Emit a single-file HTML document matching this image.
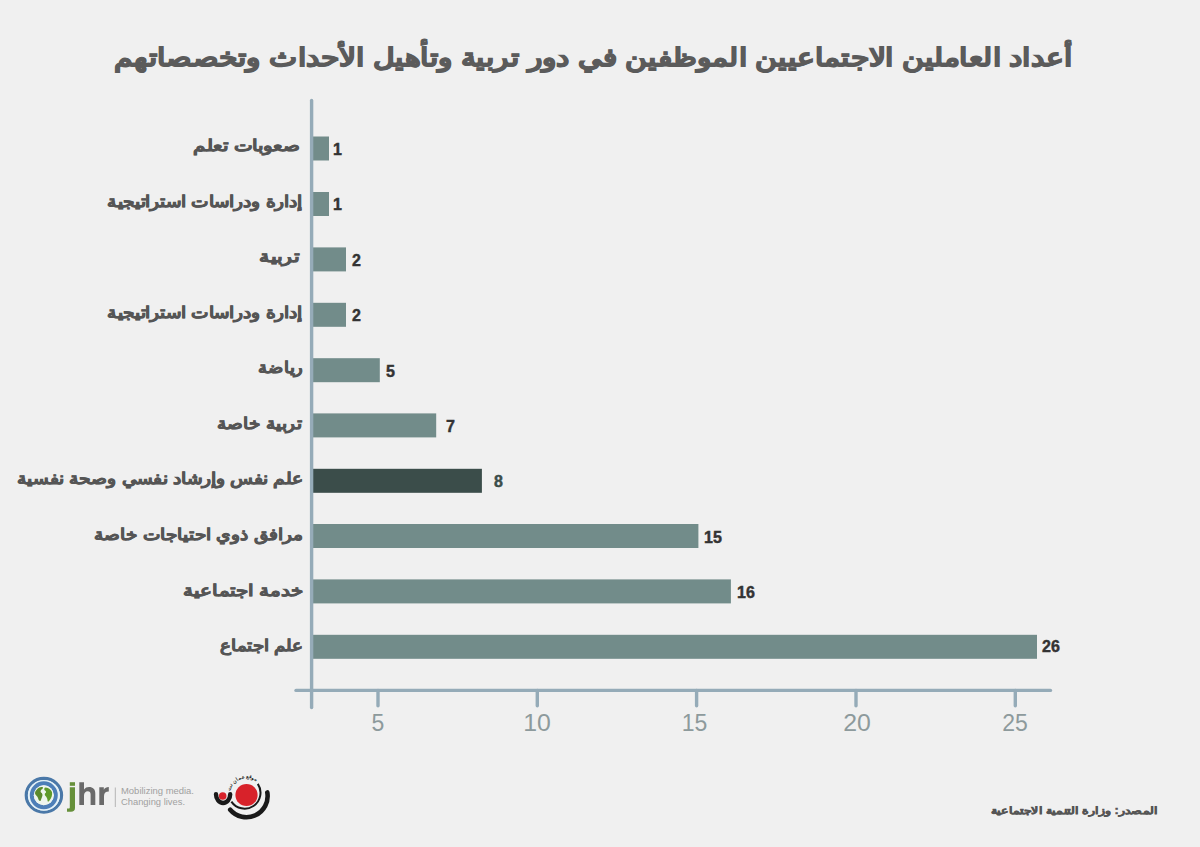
<!DOCTYPE html>
<html lang="ar">
<head>
<meta charset="utf-8">
<style>
html,body{margin:0;padding:0}
body{width:1200px;height:847px;background:#f0f0f0;position:relative;overflow:hidden;font-family:"Liberation Sans",sans-serif}
.t{position:absolute;white-space:nowrap;direction:rtl;line-height:1;transform-origin:100% 0}
.title{font-weight:bold;color:#5b5b5b;font-size:25px;-webkit-text-stroke:1px #5b5b5b}
.lab{font-weight:bold;color:#555;font-size:16px;-webkit-text-stroke:0.6px #555}
.v{position:absolute;font-weight:bold;color:#333;font-size:16px;line-height:1;white-space:nowrap;-webkit-text-stroke:0.45px #333}
.tk{position:absolute;color:#8d9a9c;font-size:23px;line-height:1;width:60px;text-align:center}
svg{position:absolute;left:0;top:0}
</style>
</head>
<body>
<svg width="1200" height="847" viewBox="0 0 1200 847">
  <g fill="#728c8a">
    <rect x="313" y="136.5" width="16" height="24"/>
    <rect x="313" y="192" width="16" height="24"/>
    <rect x="313" y="247.4" width="33" height="24"/>
    <rect x="313" y="302.8" width="33" height="24"/>
    <rect x="313" y="358.2" width="66.8" height="24"/>
    <rect x="313" y="413.4" width="123.2" height="24"/>
    <rect x="313" y="468.8" width="168.9" height="24" fill="#3b4d4a"/>
    <rect x="313" y="524" width="385.4" height="24"/>
    <rect x="313" y="579.4" width="417.9" height="24"/>
    <rect x="313" y="634.8" width="724" height="24"/>
  </g>
  <g stroke="#95abb8" stroke-width="3.4" stroke-linecap="round" fill="none">
    <line x1="311.6" y1="100.5" x2="311.6" y2="707.5"/>
    <line x1="296" y1="690.4" x2="1050.5" y2="690.4"/>
    <line x1="378" y1="690.4" x2="378" y2="705.8"/>
    <line x1="537.3" y1="690.4" x2="537.3" y2="705.8"/>
    <line x1="696.6" y1="690.4" x2="696.6" y2="705.8"/>
    <line x1="856" y1="690.4" x2="856" y2="705.8"/>
    <line x1="1015.3" y1="690.4" x2="1015.3" y2="705.8"/>
  </g>
  <!-- jhr logo -->
  <g class="logo">
    <ellipse cx="43.9" cy="795.3" rx="17.6" ry="16.8" fill="none" stroke="#4a78a8" stroke-width="3.3"/>
    <ellipse cx="43.9" cy="795.3" rx="15.2" ry="14.5" fill="none" stroke="#e4f2f8" stroke-width="1.8"/>
    <circle cx="43.8" cy="795.3" r="12" fill="none" stroke="#4d7fb8" stroke-width="4"/>
    <circle cx="43.8" cy="795.3" r="10" fill="#eef5ee"/>
    <path d="M36.5 790 C38 787.5 41 786.5 43 787.2 L42.5 789 C41 789.5 40 791 41 792.5 C42.5 793.5 43 795 42 797 L40.5 801 C39.5 801.5 38.5 800 38 798 C37.5 796 35.5 795.5 35 793.5 C35 792 35.5 791 36.5 790 Z" fill="#5b8a2d"/>
    <path d="M45 787.5 C48 787.5 51 789.5 52 792 C52.5 795 51.5 798 49.5 800.5 C48.5 802 47.5 802 47.5 800.5 C47.5 798.5 46.5 797 45.5 796 C44.5 795 44.5 793.5 45.5 793 C46.5 792.5 46 791 45 790.5 C44 790 44 788.5 45 787.5 Z" fill="#5f9a2a"/>
    <!-- j -->
    <rect x="69.8" y="782.2" width="5.2" height="3.6" fill="#66903a"/>
    <path d="M69.8 787.3 H75 V808 C75 810.5 73.5 811.8 71 811.8 H67 V808.5 H68.5 C69.5 808.5 69.8 808 69.8 807 Z" fill="#66903a"/>
    <!-- h -->
    <path d="M79.3 782.2 H84 V789.5 C85.2 787.8 87 787 89 787 C93 787 95.3 789.3 95.3 793.5 V805 H90.6 V794.5 C90.6 792.3 89.6 791.2 87.8 791.2 C85.5 791.2 84 792.8 84 795.5 V805 H79.3 Z" fill="#6a6a6a"/>
    <!-- r -->
    <path d="M99.3 787.3 H103.8 V789.8 C104.8 788 106.5 787 108.8 787 V791.6 C105.8 791.6 104 793 104 796 V805 H99.3 Z" fill="#6a6a6a"/>
    <rect x="114.8" y="787.5" width="1" height="19.5" fill="#b5b5b5"/>
    <text x="121" y="794" font-family="Liberation Sans" font-size="8.6" fill="#a0a0a0" textLength="73" lengthAdjust="spacingAndGlyphs">Mobilizing media.</text>
    <text x="121" y="805.4" font-family="Liberation Sans" font-size="8.6" fill="#a0a0a0" textLength="64" lengthAdjust="spacingAndGlyphs">Changing lives.</text>
  </g>
  <!-- amman net logo -->
  <g class="logo">
    <circle cx="246.5" cy="795" r="11.1" fill="#d8222a"/>
    <path d="M257.8 783.9 A15.8 15.8 0 1 1 231.4 801.6" fill="none" stroke="#1a1a1a" stroke-width="2"/>
    <path d="M267.3 792.4 A21.2 21.2 0 0 1 230.2 809.7" fill="none" stroke="#1a1a1a" stroke-width="4.6" stroke-linecap="round"/>
    <path d="M216 794.2 A7.1 8.8 0 0 0 230.2 794.2" fill="none" stroke="#1a1a1a" stroke-width="4.4" stroke-linecap="round"/>
    <circle cx="222.7" cy="796" r="3.8" fill="#d8222a"/>
    <path id="tp" d="M230.1 790.6 A17 17 0 0 1 257.4 782" fill="none"/>
    <text font-size="4.8" font-weight="bold" fill="#222" font-family="Liberation Sans"><textPath href="#tp" textLength="33" lengthAdjust="spacingAndGlyphs">موقع عمان نت</textPath></text>
  </g>
</svg>

<div class="t title" style="right:127.0px;top:44.8px;transform:scaleX(1.193)">أعداد العاملين الاجتماعيين الموظفين في دور تربية وتأهيل الأحداث وتخصصاتهم</div>

<div class="t lab" style="right:900.0px;top:137.9px;transform:scaleX(1.238)">صعوبات تعلم</div>
<div class="t lab" style="right:898.0px;top:193.5px;transform:scaleX(1.160)">إدارة ودراسات استراتيجية</div>
<div class="t lab" style="right:901.4px;top:249.1px;transform:scaleX(1.277)">تربية</div>
<div class="t lab" style="right:898.0px;top:304.6px;transform:scaleX(1.160)">إدارة ودراسات استراتيجية</div>
<div class="t lab" style="right:897.0px;top:360.2px;transform:scaleX(1.118)">رياضة</div>
<div class="t lab" style="right:899.0px;top:415.8px;transform:scaleX(1.154)">تربية خاصة</div>
<div class="t lab" style="right:897.0px;top:471.4px;transform:scaleX(1.168)">علم نفس وإرشاد نفسي وصحة نفسية</div>
<div class="t lab" style="right:896.6px;top:526.9px;transform:scaleX(1.156)">مرافق ذوي احتياجات خاصة</div>
<div class="t lab" style="right:896.6px;top:582.5px;transform:scaleX(1.241)">خدمة اجتماعية</div>
<div class="t lab" style="right:896.3px;top:638.1px;transform:scaleX(1.140)">علم اجتماع</div>

<div class="v" style="left:333px;top:142px">1</div>
<div class="v" style="left:333px;top:197px">1</div>
<div class="v" style="left:352px;top:253px">2</div>
<div class="v" style="left:352px;top:308px">2</div>
<div class="v" style="left:386px;top:364px">5</div>
<div class="v" style="left:446px;top:419px">7</div>
<div class="v" style="left:494px;top:474px;color:#3b4d4a;-webkit-text-stroke-color:#3b4d4a">8</div>
<div class="v" style="left:704px;top:530px">15</div>
<div class="v" style="left:737px;top:585px">16</div>
<div class="v" style="left:1042px;top:639px">26</div>

<div class="tk" style="left:348px;top:712px">5</div>
<div class="tk" style="left:507px;top:712px;transform:scaleX(1.08)">10</div>
<div class="tk" style="left:664.5px;top:712px">15</div>
<div class="tk" style="left:827px;top:712px;transform:scaleX(1.08)">20</div>
<div class="tk" style="left:985px;top:712px">25</div>

<div class="t lab" style="right:42.0px;top:806px;font-size:10px;-webkit-text-stroke:0.5px #555;transform:scaleX(1.255)">المصدر: وزارة التنمية الاجتماعية</div>

<script>
(function(){
  try{
    var W=[958.6,107.0,194.8,39.6,194.8,44.7,84.8,286.4,209.6,120.9,83.7,166.5];
    var els=document.querySelectorAll('.t');
    for(var i=0;i<els.length&&i<W.length;i++){
      var e=els[i];
      var m=/scaleX\(([\d.]+)\)/.exec(e.getAttribute('style')||'');
      var sx=m?parseFloat(m[1]):1;
      var w=e.getBoundingClientRect().width;
      if(!w) continue;
      var nat=w/sx;
      if(Math.abs(w-W[i])/W[i]>0.03){
        e.style.transform='scaleX('+(W[i]/nat).toFixed(4)+')';
      }
    }
  }catch(err){}
})();
</script>
</body>
</html>
